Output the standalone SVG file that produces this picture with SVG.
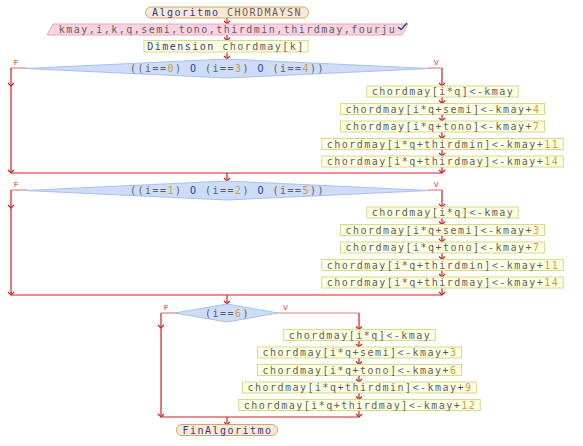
<svg xmlns="http://www.w3.org/2000/svg" width="583" height="446" viewBox="0 0 583 446">
<defs>
<style>
.t{font-family:"DejaVu Sans Mono","Liberation Mono",monospace;font-size:10px;letter-spacing:1.48px;fill:#5e5e5e;text-anchor:middle}
.k{fill:#2b3a9c}
.o{fill:#5566aa}
.n{fill:#d49a3a}
.box{fill:#ffffe2;stroke:#d8d88e;stroke-width:1}
.dia{fill:#cddcf8;stroke:#a9c0ee;stroke-width:1}
.term{fill:#fbe9d3;stroke:#d4a86a;stroke-width:1}
.inp{fill:#fad2e0;stroke:#e8a8c0;stroke-width:1}
.c{fill:none;stroke:#cc2020;stroke-width:1.2}
.lt{stroke:#e88080}
.fv{font-family:"Liberation Sans",Arial,sans-serif;font-size:7px;fill:#cc2020}
</style>
<marker id="a" viewBox="-4 -4 8 8" markerWidth="8" markerHeight="8" refX="0" refY="0" orient="auto" markerUnits="userSpaceOnUse">
<path d="M-3,-3 L0,0 L-3,3" fill="none" stroke="#cc2020" stroke-width="1.2"/>
</marker>
</defs>

<g id="connectors">
<path class="c" d="M227,17 V24" marker-end="url(#a)"/>
<path class="c" d="M227,35 V40.5" marker-end="url(#a)"/>
<path class="c" d="M227,52.5 V59" marker-end="url(#a)"/>
<path class="c lt" d="M27,68 H11"/>
<path class="c" d="M11,68 V86" marker-end="url(#a)"/>
<path class="c" d="M11,86 V173" marker-end="url(#a)"/>
<path class="c lt" d="M428,68 H442"/>
<path class="c" d="M442,68 V86" marker-end="url(#a)"/>
<path class="c" d="M442,97 V103.5" marker-end="url(#a)"/>
<path class="c" d="M442,114.5 V121" marker-end="url(#a)"/>
<path class="c" d="M442,132 V138.5" marker-end="url(#a)"/>
<path class="c" d="M442,149.5 V156" marker-end="url(#a)"/>
<path class="c" d="M442,167 V173" marker-end="url(#a)"/>
<path class="c" d="M11,173 H442"/>
<path class="c" d="M227,173 V181" marker-end="url(#a)"/>
<path class="c lt" d="M27,190 H11"/>
<path class="c" d="M11,190 V208" marker-end="url(#a)"/>
<path class="c" d="M11,208 V295" marker-end="url(#a)"/>
<path class="c lt" d="M428,190 H442"/>
<path class="c" d="M442,190 V207" marker-end="url(#a)"/>
<path class="c" d="M442,218 V224.5" marker-end="url(#a)"/>
<path class="c" d="M442,235.5 V242" marker-end="url(#a)"/>
<path class="c" d="M442,253 V259.5" marker-end="url(#a)"/>
<path class="c" d="M442,270.5 V277" marker-end="url(#a)"/>
<path class="c" d="M442,288 V295" marker-end="url(#a)"/>
<path class="c" d="M11,295 H442"/>
<path class="c" d="M227,295 V304" marker-end="url(#a)"/>
<path class="c lt" d="M177,313 H161"/>
<path class="c" d="M161,313 V328" marker-end="url(#a)"/>
<path class="c" d="M161,328 V417" marker-end="url(#a)"/>
<path class="c lt" d="M276,313 H359"/>
<path class="c" d="M359,313 V329.5" marker-end="url(#a)"/>
<path class="c" d="M359,340.5 V347" marker-end="url(#a)"/>
<path class="c" d="M359,358 V364.5" marker-end="url(#a)"/>
<path class="c" d="M359,375.5 V382" marker-end="url(#a)"/>
<path class="c" d="M359,393 V399.5" marker-end="url(#a)"/>
<path class="c" d="M359,410.5 V417" marker-end="url(#a)"/>
<path class="c" d="M161,417 H359"/>
<path class="c" d="M227,417 V425" marker-end="url(#a)"/>
<text class="fv" x="14" y="65">F</text>
<text class="fv" x="434" y="65">V</text>
<text class="fv" x="14" y="187">F</text>
<text class="fv" x="434" y="187">V</text>
<text class="fv" x="164" y="310">F</text>
<text class="fv" x="283" y="310">V</text>
</g>

<g id="start">
<rect class="term" x="145.5" y="7" width="163" height="11" rx="5.5"/>
<text class="t" x="227" y="16"><tspan class="k">Algoritmo</tspan> CHORDMAYSN</text>
</g>

<g id="input">
<polygon class="inp" points="53,24 408,24 402,35 47,35"/>
<text class="t" x="227.5" y="33">kmay,i,k,q,semi,tono,thirdmin,thirdmay,fourju</text>
<path d="M398,27 L401,29.5 L407,23" fill="none" stroke="#2b3a9c" stroke-width="1.3"/>
</g>

<g id="dim">
<rect class="box" x="144" y="40.5" width="164" height="11.5"/>
<text class="t" x="226" y="49.5"><tspan class="k">Dimension</tspan> chordmay[k]</text>
</g>

<g id="cond1">
<polygon class="dia" points="25,68.5 227,59 430,68.5 227,78"/>
<text class="t" x="227.5" y="72">((i==<tspan class="n">0</tspan>) <tspan class="k">O</tspan> (i==<tspan class="n">3</tspan>) <tspan class="k">O</tspan> (i==<tspan class="n">4</tspan>))</text>
</g>

<g id="c1b1"><rect class="box" x="366.75" y="86" width="151.5" height="11"/><text class="t" x="443" y="95">chordmay[i*q]<tspan class="o">&lt;-</tspan>kmay</text></g>
<g id="c1b2"><rect class="box" x="340.5" y="103.5" width="204" height="11"/><text class="t" x="443" y="112.5">chordmay[i*q+semi]<tspan class="o">&lt;-</tspan>kmay+<tspan class="n">4</tspan></text></g>
<g id="c1b3"><rect class="box" x="340.5" y="121" width="204" height="11"/><text class="t" x="443" y="130">chordmay[i*q+tono]<tspan class="o">&lt;-</tspan>kmay+<tspan class="n">7</tspan></text></g>
<g id="c1b4"><rect class="box" x="321.75" y="138.5" width="241.5" height="11"/><text class="t" x="443" y="147.5">chordmay[i*q+thirdmin]<tspan class="o">&lt;-</tspan>kmay+<tspan class="n">11</tspan></text></g>
<g id="c1b5"><rect class="box" x="321.75" y="156" width="241.5" height="11"/><text class="t" x="443" y="165">chordmay[i*q+thirdmay]<tspan class="o">&lt;-</tspan>kmay+<tspan class="n">14</tspan></text></g>

<g id="cond2">
<polygon class="dia" points="25,190.5 227,181 430,190.5 227,200"/>
<text class="t" x="227.5" y="194">((i==<tspan class="n">1</tspan>) <tspan class="k">O</tspan> (i==<tspan class="n">2</tspan>) <tspan class="k">O</tspan> (i==<tspan class="n">5</tspan>))</text>
</g>

<g id="c2b1"><rect class="box" x="366.75" y="207" width="151.5" height="11"/><text class="t" x="443" y="216">chordmay[i*q]<tspan class="o">&lt;-</tspan>kmay</text></g>
<g id="c2b2"><rect class="box" x="340.5" y="224.5" width="204" height="11"/><text class="t" x="443" y="233.5">chordmay[i*q+semi]<tspan class="o">&lt;-</tspan>kmay+<tspan class="n">3</tspan></text></g>
<g id="c2b3"><rect class="box" x="340.5" y="242" width="204" height="11"/><text class="t" x="443" y="251">chordmay[i*q+tono]<tspan class="o">&lt;-</tspan>kmay+<tspan class="n">7</tspan></text></g>
<g id="c2b4"><rect class="box" x="321.75" y="259.5" width="241.5" height="11"/><text class="t" x="443" y="268.5">chordmay[i*q+thirdmin]<tspan class="o">&lt;-</tspan>kmay+<tspan class="n">11</tspan></text></g>
<g id="c2b5"><rect class="box" x="321.75" y="277" width="241.5" height="11"/><text class="t" x="443" y="286">chordmay[i*q+thirdmay]<tspan class="o">&lt;-</tspan>kmay+<tspan class="n">14</tspan></text></g>

<g id="cond3">
<polygon class="dia" points="175,313 227,304 278,313 227,322"/>
<text class="t" x="227.5" y="316.5">(i==<tspan class="n">6</tspan>)</text>
</g>

<g id="c3b1"><rect class="box" x="283.75" y="329.5" width="151.5" height="11"/><text class="t" x="360" y="338.5">chordmay[i*q]<tspan class="o">&lt;-</tspan>kmay</text></g>
<g id="c3b2"><rect class="box" x="257.5" y="347" width="204" height="11"/><text class="t" x="360" y="356">chordmay[i*q+semi]<tspan class="o">&lt;-</tspan>kmay+<tspan class="n">3</tspan></text></g>
<g id="c3b3"><rect class="box" x="257.5" y="364.5" width="204" height="11"/><text class="t" x="360" y="373.5">chordmay[i*q+tono]<tspan class="o">&lt;-</tspan>kmay+<tspan class="n">6</tspan></text></g>
<g id="c3b4"><rect class="box" x="242.5" y="382" width="234" height="11"/><text class="t" x="360" y="391">chordmay[i*q+thirdmin]<tspan class="o">&lt;-</tspan>kmay+<tspan class="n">9</tspan></text></g>
<g id="c3b5"><rect class="box" x="238.75" y="399.5" width="241.5" height="11"/><text class="t" x="360" y="408.5">chordmay[i*q+thirdmay]<tspan class="o">&lt;-</tspan>kmay+<tspan class="n">12</tspan></text></g>

<g id="end">
<rect class="term" x="176.5" y="424.5" width="101" height="11" rx="5.5"/>
<text class="t k" x="227.5" y="433.5">FinAlgoritmo</text>
</g>
</svg>
